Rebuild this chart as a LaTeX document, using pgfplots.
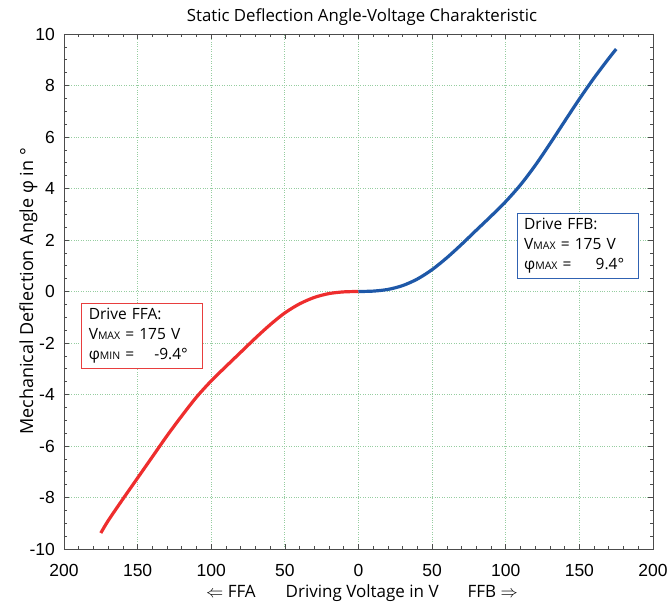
\documentclass[border=0pt]{standalone}
\usepackage{fontspec}
\setmainfont{Open Sans}
\newfontfamily\tickfont{Liberation Sans}
\usepackage{pgfplots}
\pgfplotsset{compat=1.18}
\definecolor{gridgreen}{RGB}{150,205,160}
\definecolor{ffared}{RGB}{238,45,45}
\definecolor{ffbblue}{RGB}{30,88,168}
\definecolor{boxred}{RGB}{232,62,62}
\definecolor{boxblue}{RGB}{48,98,178}
\newcommand{\sub}[1]{{\fontsize{10.5bp}{12bp}\selectfont #1}}
\begin{document}
\begin{tikzpicture}
\begin{axis}[
  name=ax,
  width=589bp, height=515bp, scale only axis,
  xmin=-200, xmax=200, ymin=-10, ymax=10,
  xtick={-200,-150,...,200},
  xticklabels={200,150,100,50,0,50,100,150,200},
  ytick={-10,-8,...,10},
  minor x tick num=4, minor y tick num=3,
  tick align=inside, major tick length=5bp, minor tick length=3bp,
  grid=major,
  grid style={dotted, color=gridgreen, line width=0.9pt},
  axis line style={draw=black!70, line width=0.9pt},
  every tick/.style={black!70, line width=0.7pt},
  ticklabel style={font=\tickfont\fontsize{17.5bp}{20bp}\selectfont},
  xticklabel style={anchor=base, yshift=-27bp},
  yticklabel style={anchor=east, inner xsep=0pt, xshift=-9bp},
  /pgf/number format/assume math mode=true,
  title={Static Deflection Angle-Voltage Charakteristic},
  title style={font=\fontsize{16.8bp}{19bp}\selectfont,
    at={(axis description cs:0.506,1)}, anchor=base, yshift=7bp},
  xlabel={$\Leftarrow$ FFA\hspace{30bp}Driving Voltage in V\hspace{29bp}FFB $\Rightarrow$},
  xlabel style={font=\fontsize{17bp}{19bp}\selectfont,
    at={(axis description cs:0.506,0)}, anchor=base, yshift=-48bp},
  ylabel={Mechanical Deflection Angle φ in °},
  ylabel style={font=\fontsize{18bp}{20bp}\selectfont,
    at={(axis description cs:-0.0526,0.5)}, anchor=base},
]
% Drive FFA (plotted at negative voltages)
\addplot[ffared, line width=3.2bp, smooth] coordinates {
  (-175,-9.38) (-170,-8.9) (-160,-8.06) (-150,-7.24) (-140,-6.42)
  (-130,-5.6) (-120,-4.83) (-110,-4.1) (-100,-3.47) (-90,-2.91)
  (-80,-2.36) (-70,-1.81) (-60,-1.29) (-50,-0.83) (-40,-0.48)
  (-30,-0.23) (-20,-0.08) (-10,-0.015) (0,0)
};
% Drive FFB
\addplot[ffbblue, line width=3.2bp, smooth] coordinates {
  (0,0) (10,0.015) (20,0.08) (30,0.23) (40,0.485) (50,0.85) (60,1.31)
  (70,1.83) (80,2.38) (90,2.925) (100,3.495) (110,4.14) (120,4.895)
  (130,5.735) (140,6.61) (150,7.475) (160,8.295) (170,9.055) (175,9.415)
};
\node[draw=boxred, line width=1.1pt, fill=white, anchor=north west,
  align=left, inner xsep=7bp, inner ysep=5bp, text width=107bp,
  font=\fontsize{15.5bp}{20bp}\selectfont]
  at (axis cs:-188.3,-0.44)
  {Drive FFA:\\ V\sub{MAX} = 175 V\\ \makebox[99bp][l]{φ\sub{MIN} =\hfill -9.4°}};
\node[draw=boxblue, line width=1.1pt, fill=white, anchor=north west,
  align=left, inner xsep=7bp, inner ysep=5bp, text width=107bp,
  font=\fontsize{15.5bp}{20bp}\selectfont]
  at (axis cs:107.4,3.06)
  {Drive FFB:\\ V\sub{MAX} = 175 V\\ \makebox[100bp][l]{φ\sub{MAX} =\hfill 9.4°}};
\end{axis}
\pgfresetboundingbox
\path[use as bounding box] ([shift={(-64bp,-54bp)}]ax.south west)
  rectangle ([shift={(19bp,34bp)}]ax.north east);
\end{tikzpicture}
\end{document}
